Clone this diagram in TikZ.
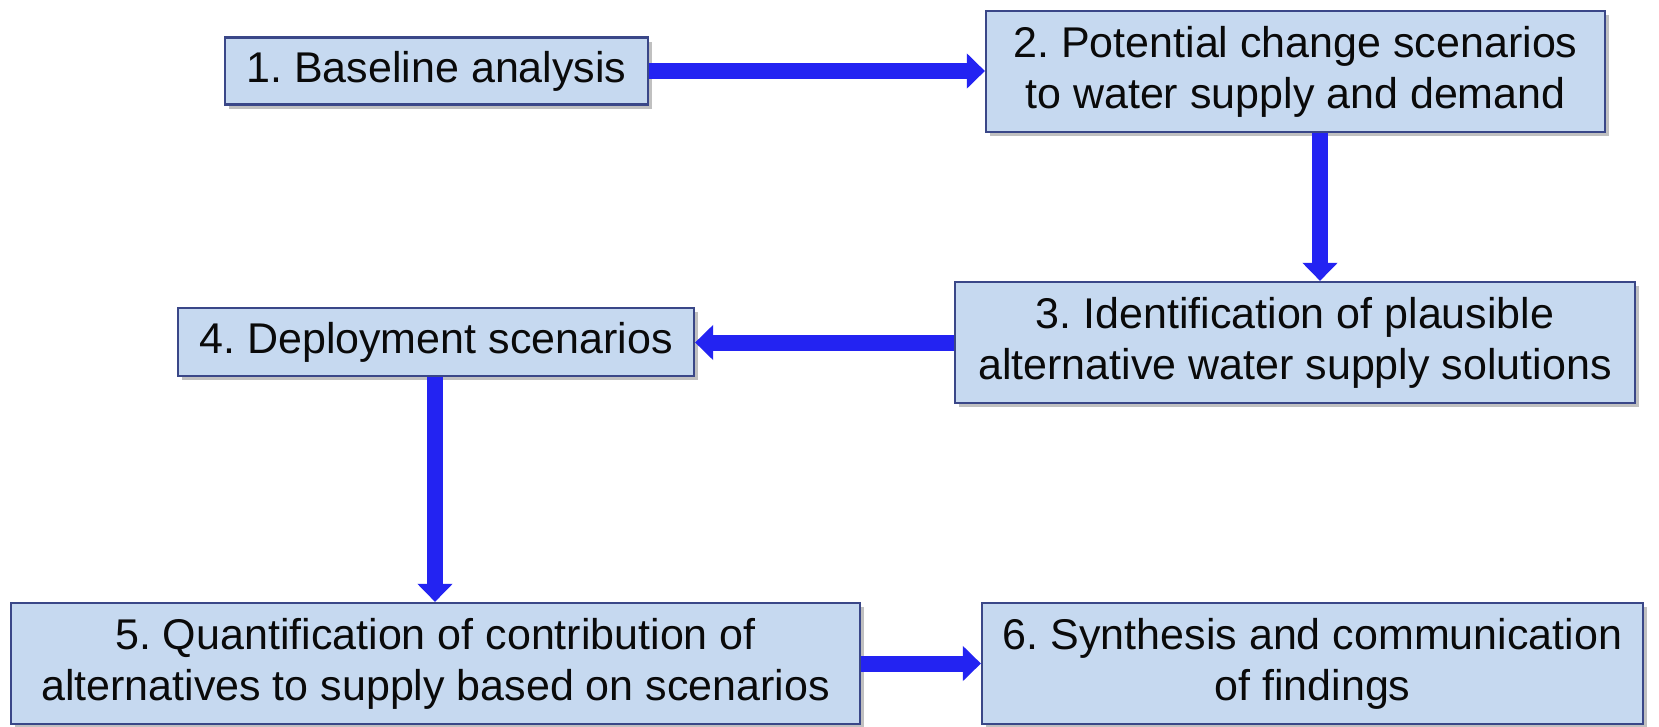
\documentclass[tikz,border=0pt]{standalone}
\usepackage{fontspec}
\setmainfont{Liberation Sans}
\usetikzlibrary{arrows.meta,shadows}
\definecolor{boxfill}{HTML}{C6D9F0}
\definecolor{boxline}{HTML}{3A4788}
\definecolor{arrowblue}{HTML}{2323F2}
\definecolor{txt}{HTML}{0A0A0A}
\tikzset{
  stepbox/.style={draw=boxline, line width=2.2pt, fill=boxfill, inner sep=0pt,
    align=center, text=txt, font=\fontsize{43}{51}\selectfont\frenchspacing,
    drop shadow={shadow xshift=4pt, shadow yshift=-4pt, opacity=0.35, fill=black!70}},
  flow/.style={draw=arrowblue, line width=16pt,
    -{Triangle[width=34pt,length=18pt,fill=arrowblue]}}
}
\begin{document}
\begin{tikzpicture}[x=1pt,y=-1pt]
\useasboundingbox[fill=white] (0,0) rectangle (1659,726);
\node[stepbox, minimum width=423pt, minimum height=67pt] (b1) at (436.5,71) {1. Baseline analysis};
\node[stepbox, minimum width=619pt, minimum height=121pt] (b2) at (1295.5,71.5) {2. Potential change scenarios\\to water supply and demand};
\node[stepbox, minimum width=680pt, minimum height=121pt] (b3) at (1295,342.5) {3. Identification of plausible\\alternative water supply solutions};
\node[stepbox, minimum width=516pt, minimum height=68pt] (b4) at (436,342) {4. Deployment scenarios};
\node[stepbox, minimum width=849pt, minimum height=121pt] (b5) at (435.5,663.5) {5. Quantification of contribution of\\alternatives to supply based on scenarios};
\node[stepbox, minimum width=661pt, minimum height=121pt] (b6) at (1312.5,663.5) {6. Synthesis and communication\\of findings};
\coordinate (c23) at (1320,0);
\coordinate (c45) at (435,0);
\draw[flow] (b1.east) -- (b1.east -| b2.west);
\draw[flow] (b2.south -| c23) -- (b3.north -| c23);
\draw[flow] (b3.west) -- (b3.west -| b4.east);
\draw[flow] (b4.south -| c45) -- (b5.north -| c45);
\draw[flow] (b5.east) -- (b6.west);
\end{tikzpicture}
\end{document}
